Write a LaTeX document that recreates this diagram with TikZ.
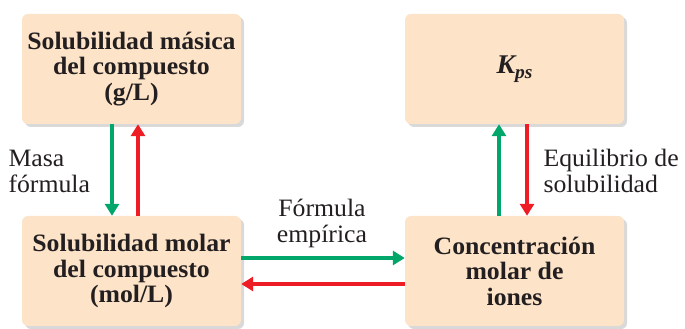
\documentclass[tikz,border=0pt]{standalone}
\usepackage{fontspec}
\setmainfont{Liberation Serif}[FakeStretch=1.03]
\usetikzlibrary{arrows.meta,shadows}
\definecolor{boxfill}{HTML}{FDE3C8}
\definecolor{agreen}{HTML}{00A66A}
\definecolor{ared}{HTML}{EE1C25}
\definecolor{txt}{HTML}{231F20}
\begin{document}
\begin{tikzpicture}[x=1pt,y=1pt,
  box/.style={fill=boxfill, rounded corners=6pt, minimum width=219pt, minimum height=110pt,
    inner sep=2pt, align=center, text=txt, font=\fontsize{25}{25.5}\selectfont\bfseries,
    drop shadow={shadow xshift=3pt, shadow yshift=-3pt, fill=black!25, opacity=0.6}},
  lbl/.style={text=txt, font=\fontsize{25}{26}\selectfont},
  garrow/.style={draw=agreen, line width=4pt, -{Triangle[width=14pt,length=12pt]}, agreen},
  rarrow/.style={draw=ared, line width=4pt, -{Triangle[width=14pt,length=12pt]}, ared}]
\useasboundingbox (0,0) rectangle (685,329);
\node[box] (TL) at (131.5,260) {Solubilidad másica\\del compuesto\\(g/L)};
\node[box] (BL) at (131.5,58) {Solubilidad molar\\del compuesto\\(mol/L)};
\node[box, font=\fontsize{27}{28}\selectfont\bfseries\itshape] (TR) at (514.5,260) {K\raisebox{-5pt}{\fontsize{19}{20}\selectfont ps}};
\node[box] (BR) at (514.5,58) {Concentración\\molar de\\iones};
\draw[garrow] ([xshift=-19.5pt]TL.south) -- ([xshift=-19.5pt]BL.north);
\draw[rarrow] ([xshift=6.5pt]BL.north) -- ([xshift=6.5pt]TL.south);
\draw[garrow] ([xshift=-15.5pt]BR.north) -- ([xshift=-15.5pt]TR.south);
\draw[rarrow] ([xshift=12.5pt]TR.south) -- ([xshift=12.5pt]BR.north);
\draw[garrow] ([yshift=13pt]BL.east) -- ([yshift=13pt]BR.west);
\draw[rarrow] ([yshift=-13pt]BR.west) -- ([yshift=-13pt]BL.east);
\node[lbl, align=left, anchor=west] (L1) at (5,158) {Masa\\fórmula};
\node[lbl, align=center] (L2) at (322,106) {Fórmula\\empírica};
\node[lbl, align=left, anchor=west] (L3) at (540,158) {Equilibrio de\\solubilidad};
\end{tikzpicture}
\end{document}
